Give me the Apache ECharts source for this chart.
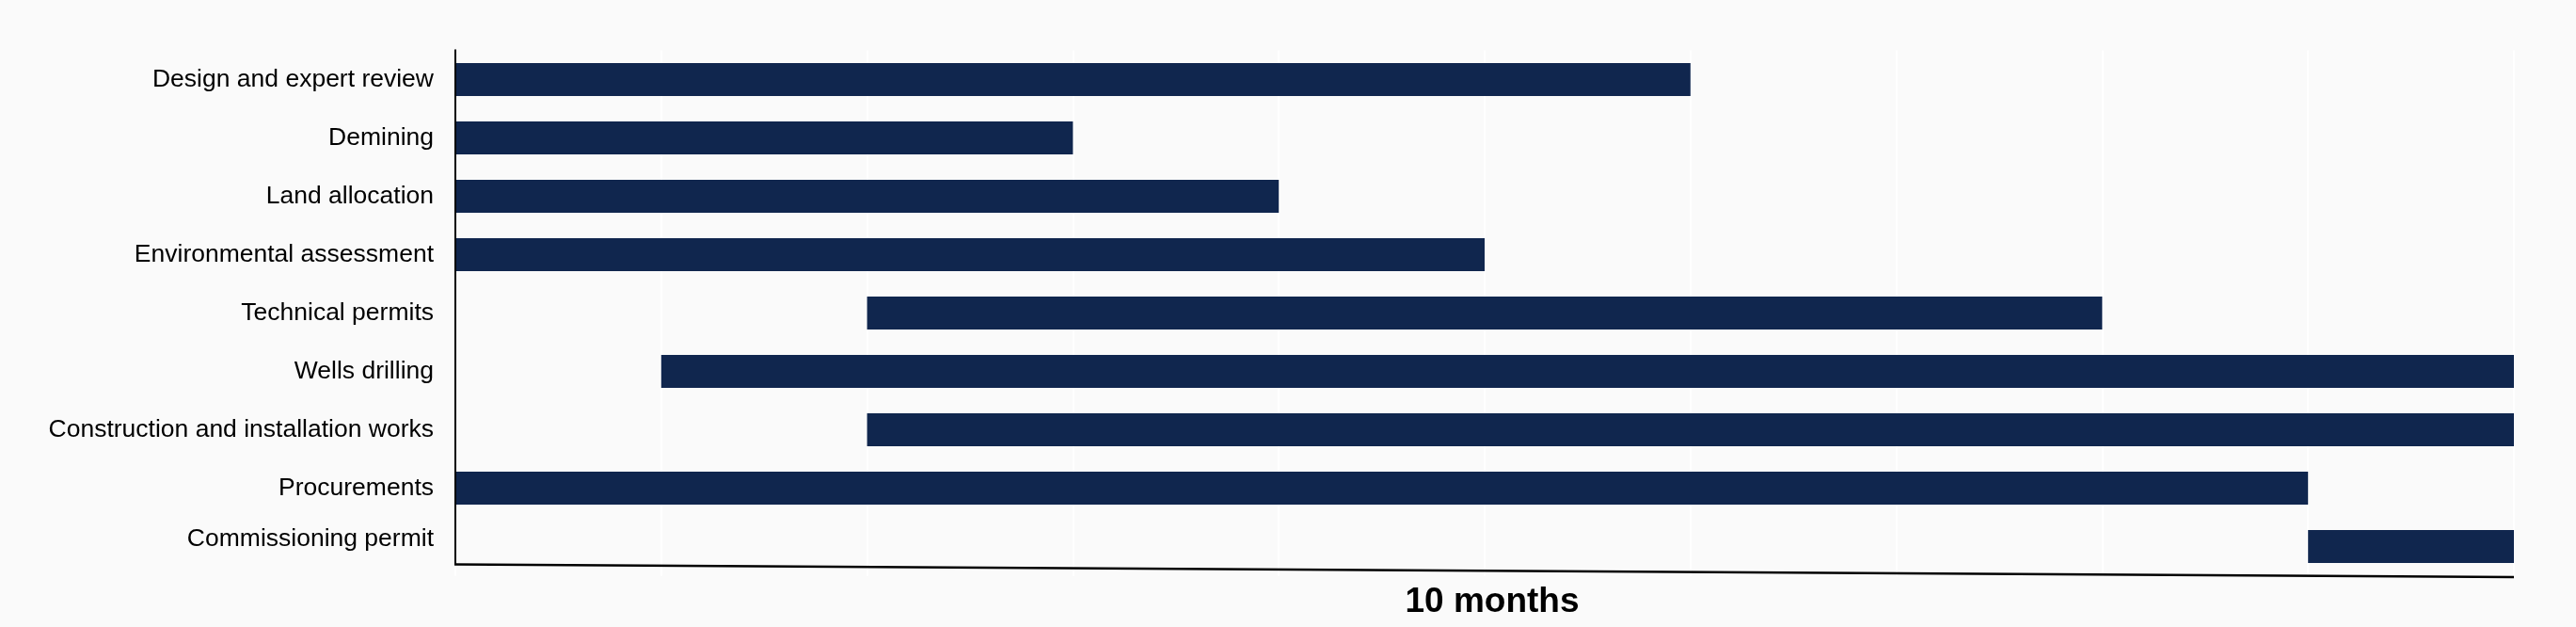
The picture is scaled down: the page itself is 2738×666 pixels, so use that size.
<!DOCTYPE html>
<html>
<head>
<meta charset="utf-8">
<script src="https://cdn.jsdelivr.net/npm/echarts@6/dist/echarts.min.js"></script>
<style>
html,body{margin:0;padding:0;background:#fafafa;}
#chart{width:2738px;height:666px;}
</style>
</head>
<body>
<div id="chart"></div>
<script>
const categories = ['Design and expert review','Demining','Land allocation','Environmental assessment','Technical permits','Wells drilling','Construction and installation works','Procurements','Commissioning permit'];
const startMonth = [0,0,0,0,2,1,2,0,9];
const durationMonths = [6,3,4,5,6,9,8,9,1];
const axisTitle = '10 months';

const chart = echarts.init(document.getElementById('chart'), null, {renderer:'canvas'});
const gridTop = 53.5, gridBottom = 54.5, gridLeft = 484, gridRight = 66;
const option = {
  backgroundColor:'#fafafa',
  animation:false,
  grid:{left:gridLeft, right:gridRight, top:gridTop, bottom:gridBottom, containLabel:false},
  xAxis:{
    type:'value', min:0, max:10, interval:1,
    axisLine:{show:false}, axisTick:{show:false}, axisLabel:{show:false},
    splitLine:{show:true, lineStyle:{color:'#ffffff', width:2}},
    name:axisTitle, nameLocation:'middle', nameGap:10,
    nameTextStyle:{fontFamily:'Liberation Sans', fontSize:37, fontWeight:'bold', color:'#000', padding:[0,0,0,16]}
  },
  yAxis:{
    type:'category', data:categories, inverse:true,
    axisLine:{show:false}, axisTick:{show:false}, splitLine:{show:false},
    axisLabel:{
      margin:23, color:'#000', fontFamily:'Liberation Sans', fontSize:26.5,
      formatter:function(v, i){ return i === categories.length-1 ? '{up|'+v+'}' : v; },
      rich:{up:{fontFamily:'Liberation Sans', fontSize:26.5, color:'#000', padding:[0,0,16,0]}}
    }
  },
  series:[
    {type:'bar', stack:'g', data:startMonth, barWidth:35, itemStyle:{color:'transparent'}, silent:true},
    {type:'bar', stack:'g', data:durationMonths, barWidth:35, itemStyle:{color:'#10264e'}}
  ]
};
chart.setOption(option);

const pxLeft = chart.convertToPixel({xAxisIndex:0}, 0);
const pxRight = chart.convertToPixel({xAxisIndex:0}, 10);
const lineTop = gridTop - 1;
const lineBottom = 666 - gridBottom;
chart.setOption({
  graphic:[
    {type:'line', shape:{x1:pxLeft, y1:lineTop, x2:pxLeft, y2:lineBottom-12}, style:{stroke:'#000', lineWidth:2}, z:100},
    {type:'polyline', shape:{points:[[pxLeft-1, lineBottom-12],[pxRight, lineBottom+1.5]]}, style:{stroke:'#000', lineWidth:2.5, fill:null}, z:100}
  ]
});
</script>
</body>
</html>
